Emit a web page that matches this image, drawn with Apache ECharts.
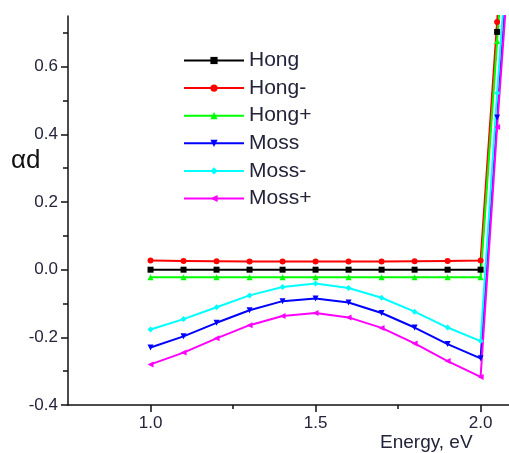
<!DOCTYPE html>
<html>
<head>
<meta charset="utf-8">
<script src="https://cdn.jsdelivr.net/npm/echarts@6/dist/echarts.min.js"></script>
<style>
  html, body { margin: 0; padding: 0; background: #fff; }
  #chart { width: 509px; height: 453px; }
</style>
</head>
<body>
<div id="chart"></div>
<script>
// Photon energy (eV)
const energy = [1.0, 1.1, 1.2, 1.3, 1.4, 1.5, 1.6, 1.7, 1.8, 1.9, 2.0, 2.05, 2.1];

// Absorbance αd for each model
const hong      = [0.0, 0.0, 0.0, 0.0, 0.0, 0.0, 0.0, 0.0, 0.0, 0.0, 0.0, 0.703, 1.40];
const hongMinus = [0.027, 0.026, 0.025, 0.024, 0.024, 0.024, 0.024, 0.024, 0.025, 0.026, 0.027, 0.732, 1.45];
const hongPlus  = [-0.022, -0.022, -0.022, -0.022, -0.022, -0.022, -0.022, -0.022, -0.022, -0.022, -0.022, 0.676, 1.35];
const moss      = [-0.230, -0.197, -0.157, -0.120, -0.093, -0.085, -0.097, -0.128, -0.171, -0.220, -0.262, 0.45, 1.15];
const mossMinus = [-0.177, -0.146, -0.111, -0.076, -0.051, -0.041, -0.054, -0.083, -0.124, -0.171, -0.211, 0.522, 1.20];
const mossPlus  = [-0.280, -0.245, -0.203, -0.164, -0.137, -0.128, -0.141, -0.172, -0.218, -0.270, -0.317, 0.422, 1.10];

// Tick positions
const xMajorTicks = [1.0, 1.5, 2.0];
const xMinorTicks = [1.25, 1.75];
const yMajorTicks = [-0.4, -0.2, 0.0, 0.2, 0.4, 0.6];
const yMinorTicks = [-0.3, -0.1, 0.1, 0.3, 0.5, 0.7];

const seriesDefs = [
  { name: 'Hong',  data: hong,      color: '#000000', symbol: 'rect' },
  { name: 'Hong-', data: hongMinus, color: '#ff0000', symbol: 'circle' },
  { name: 'Hong+', data: hongPlus,  color: '#00ff00', symbol: 'triangle' },
  { name: 'Moss',  data: moss,      color: '#0000ff', symbol: 'path://M0,0 L10,0 L5,9 Z' },
  { name: 'Moss-', data: mossMinus, color: '#00ffff', symbol: 'diamond' },
  { name: 'Moss+', data: mossPlus,  color: '#ff00ff', symbol: 'path://M0,5 L9,0 L9,10 Z' }
];

const chart = echarts.init(document.getElementById('chart'), null, { renderer: 'canvas' });

const fmt = v => v.toFixed(1);
const labelColor = '#23233a';
const X_MIN = 0.75, X_MAX = 2.086, Y_MIN = -0.4, Y_MAX = 0.75;

chart.setOption({
  animation: false,
  backgroundColor: '#ffffff',
  grid: { left: 68, top: 16, right: 0, bottom: 48, containLabel: false },
  legend: {
    orient: 'vertical',
    left: 178,
    top: 45,
    itemWidth: 60,
    itemHeight: 9,
    itemGap: 6.6,
    itemTextGap: 7,
    textStyle: { fontFamily: 'Liberation Sans, Arial, sans-serif', fontSize: 21, color: labelColor },
    data: seriesDefs.map(s => s.name)
  },
  xAxis: [
    {
      type: 'value', min: X_MIN, max: X_MAX,
      axisLine: { onZero: false, lineStyle: { color: '#111', width: 1.5 } },
      axisTick: { customValues: xMajorTicks, length: 7, inside: false, lineStyle: { color: '#111', width: 1.5 } },
      axisLabel: { customValues: xMajorTicks, formatter: fmt, margin: 10, fontFamily: 'Liberation Sans, Arial, sans-serif', fontSize: 17, color: labelColor },
      splitLine: { show: false }
    },
    {
      type: 'value', min: X_MIN, max: X_MAX, position: 'bottom',
      axisLine: { show: false, onZero: false },
      axisTick: { customValues: xMinorTicks, length: 4, inside: false, lineStyle: { color: '#111', width: 1.5 } },
      axisLabel: { show: false },
      splitLine: { show: false }
    }
  ],
  yAxis: [
    {
      type: 'value', min: Y_MIN, max: Y_MAX,
      axisLine: { show: true, onZero: false, lineStyle: { color: '#111', width: 1.5 } },
      axisTick: { show: true, customValues: yMajorTicks, length: 7, inside: false, lineStyle: { color: '#111', width: 1.5 } },
      axisLabel: { customValues: yMajorTicks, formatter: fmt, margin: 10, fontFamily: 'Liberation Sans, Arial, sans-serif', fontSize: 17, color: labelColor },
      splitLine: { show: false }
    },
    {
      type: 'value', min: Y_MIN, max: Y_MAX, position: 'left',
      axisLine: { show: false, onZero: false },
      axisTick: { show: true, customValues: yMinorTicks, length: 5, inside: false, lineStyle: { color: '#111', width: 1.5 } },
      axisLabel: { show: false },
      splitLine: { show: false }
    }
  ],
  graphic: [
    {
      type: 'text', left: 11, top: 148,
      style: { text: 'αd', font: '26px "Liberation Sans", Arial, sans-serif', fill: '#111' }
    },
    {
      type: 'text', left: 380, top: 433,
      style: { text: 'Energy, eV', font: '19px "Liberation Sans", Arial, sans-serif', fill: labelColor }
    }
  ],
  series: seriesDefs.map(s => ({
    name: s.name,
    type: 'line',
    xAxisIndex: 0,
    yAxisIndex: 0,
    data: energy.map((e, i) => [e, s.data[i]]),
    symbol: s.symbol,
    symbolSize: 6,
    showAllSymbol: true,
    clip: true,
    color: s.color,
    lineStyle: { color: s.color, width: 2 },
    itemStyle: { color: s.color }
  }))
});
</script>
</body>
</html>
